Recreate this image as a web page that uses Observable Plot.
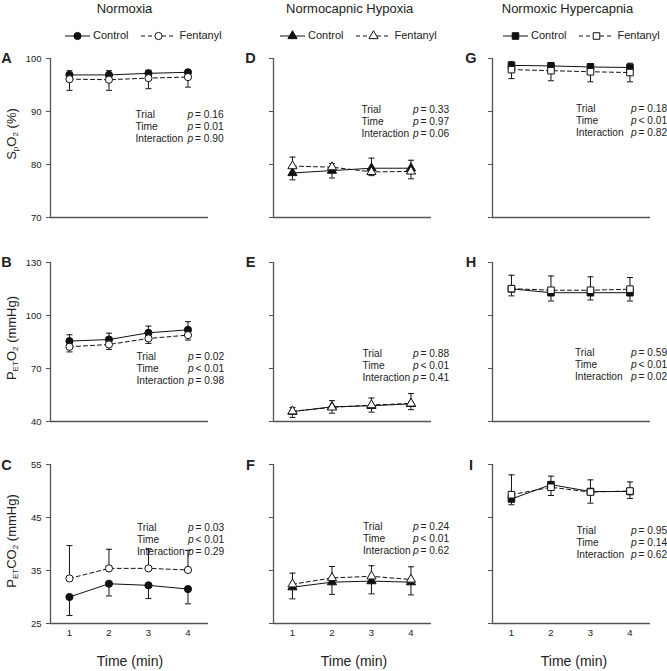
<!DOCTYPE html>
<html><head><meta charset="utf-8">
<script src="https://cdn.jsdelivr.net/npm/d3@7"></script>
<script src="https://cdn.jsdelivr.net/npm/@observablehq/plot@0.6"></script>
<style>
body{margin:0;background:#fff;font-family:"Liberation Sans",Arial,sans-serif;color:#222}
#chart{position:relative;width:667px;height:671px;overflow:hidden}
.abs{position:absolute;white-space:nowrap}
.rot{transform:translate(-50%,-50%) rotate(-90deg);font-size:13px}
.ctr{transform:translate(-50%,-50%)}
sub{font-size:0.62em;vertical-align:-0.35em;line-height:0}
svg{overflow:visible}
</style></head><body><div id="chart"></div>
<script>
// ---------------- data ----------------
const times = [1, 2, 3, 4];
const xTickLabels = ["1", "2", "3", "4"];
const conditions = ["Normoxia", "Normocapnic Hypoxia", "Normoxic Hypercapnia"];
const seriesNames = ["Control", "Fentanyl"];
const panelLetters = ["A", "B", "C", "D", "E", "F", "G", "H", "I"];
const spo2Ticks = [70, 80, 90, 100];
const peto2Ticks = [40, 70, 100, 130];
const petco2Ticks = [25, 35, 45, 55];
const testNames = ["Trial", "Time", "Interaction"];
const xLabel = "Time (min)";

// Normoxia
const A_control = [96.9, 96.9, 97.2, 97.4], A_controlSD = [0.8, 0.8, 0.6, 0.5];
const A_fentanyl = [96.1, 96.0, 96.3, 96.5], A_fentanylSD = [2.1, 2.0, 2.0, 1.9];
const B_control = [85.5, 86.4, 90.2, 91.9], B_controlSD = [3.6, 3.6, 3.8, 4.6];
const B_fentanyl = [82.3, 83.6, 87.0, 88.9], B_fentanylSD = [2.9, 2.8, 2.8, 2.8];
const C_control = [30.0, 32.5, 32.2, 31.5], C_controlSD = [3.5, 2.3, 2.5, 2.8];
const C_fentanyl = [33.5, 35.4, 35.4, 35.1], C_fentanylSD = [6.2, 3.6, 3.7, 3.7];
// Normocapnic hypoxia
const D_control = [78.4, 78.85, 79.3, 79.3], D_controlSD = [1.3, 1.4, 1.9, 1.5];
const D_fentanyl = [79.7, 79.5, 78.6, 78.7], D_fentanylSD = [1.7, 0.7, 0.7, 1.4];
const E_control = [45.6, 48.3, 48.9, 50.0], E_controlSD = [3.3, 3.5, 3.6, 3.3];
const E_fentanyl = [45.8, 48.0, 49.3, 50.2], E_fentanylSD = [2.2, 3.3, 4.0, 5.6];
const F_control = [31.85, 32.8, 33.0, 32.8], F_controlSD = [2.2, 2.3, 2.4, 2.4];
const F_fentanyl = [32.4, 33.6, 33.9, 33.3], F_fentanylSD = [2.1, 2.15, 2.0, 2.4];
// Normoxic hypercapnia
const G_control = [98.7, 98.6, 98.4, 98.3], G_controlSD = [0.7, 0.6, 0.65, 0.8];
const G_fentanyl = [97.9, 97.7, 97.5, 97.35], G_fentanylSD = [1.7, 1.9, 1.9, 1.75];
const H_control = [115.1, 112.9, 112.9, 112.9], H_controlSD = [4.0, 4.7, 4.1, 4.7];
const H_fentanyl = [115.2, 114.3, 114.3, 114.9], H_fentanylSD = [7.6, 8.1, 7.6, 6.6];
const I_control = [48.5, 51.2, 49.9, 49.9], I_controlSD = [1.1, 1.6, 2.2, 1.3];
const I_fentanyl = [49.3, 50.7, 49.8, 50.0], I_fentanylSD = [3.75, 1.55, 2.1, 1.7];

const pTrial = ["= 0.16", "= 0.02", "= 0.03", "= 0.33", "= 0.88", "= 0.24", "= 0.18", "= 0.59", "= 0.95"];
const pTime = ["= 0.01", "< 0.01", "< 0.01", "= 0.97", "< 0.01", "< 0.01", "< 0.01", "< 0.01", "= 0.14"];
const pInteraction = ["= 0.90", "= 0.98", "= 0.29", "= 0.06", "= 0.41", "= 0.62", "= 0.82", "= 0.02", "= 0.62"];

// ---------------- layout ----------------
const FONT = '"Liberation Sans", Arial, sans-serif';
const INK = "#111";
const AXIS = "#555";
const colAxisX = [50, 272.5, 491.5];
const rowTop = [57.7, 261.7, 464];
const ML = 30, MR = 25, MT = 8, MB = 22, IW = 158, IH = 159;
const XDOM = [0.52, 4.52];
const rowTicks = [spo2Ticks, peto2Ticks, petco2Ticks];
const colSymbols = ["circle", "triangle", "square"];
const symR = {circle: 3.6, triangle: 3.4, square: 3.7};
// p-block offsets: [label dx, p dx, middle-line center from frame top]
const pOffsets = [[85, 137, 67.3], [86, 137.5, 105.3], [86.5, 137.5, 75],
                  [88, 139.5, 62.3], [89, 139.5, 102.6], [89.5, 139.5, 74],
                  [83.5, 138.5, 61.3], [82.5, 138.5, 101.3], [84, 138.5, 78]];

const panelData = [
  [A_control, A_controlSD, A_fentanyl, A_fentanylSD],
  [B_control, B_controlSD, B_fentanyl, B_fentanylSD],
  [C_control, C_controlSD, C_fentanyl, C_fentanylSD],
  [D_control, D_controlSD, D_fentanyl, D_fentanylSD],
  [E_control, E_controlSD, E_fentanyl, E_fentanylSD],
  [F_control, F_controlSD, F_fentanyl, F_fentanylSD],
  [G_control, G_controlSD, G_fentanyl, G_fentanylSD],
  [H_control, H_controlSD, H_fentanyl, H_fentanylSD],
  [I_control, I_controlSD, I_fentanyl, I_fentanylSD]
];

const capSymbol = {draw(ctx, size) { const w = Math.sqrt(size / Math.PI); ctx.moveTo(-w, 0); ctx.lineTo(w, 0); }};

const chart = document.getElementById("chart");
function addDiv(html, css, cls = "abs") {
  const d = document.createElement("div");
  d.className = cls; d.innerHTML = html;
  Object.assign(d.style, css);
  chart.appendChild(d);
  return d;
}

function makePanel(k) {
  const col = Math.floor(k / 3), row = k % 3;
  const [control, controlSD, fentanyl, fentanylSD] = panelData[k];
  const ticks = rowTicks[row];
  const ctrl = times.map((t, i) => ({t, m: control[i]}));
  const fent = times.map((t, i) => ({t, m: fentanyl[i]}));
  const bars = [];
  times.forEach((t, i) => {
    const cUp = control[i] > fentanyl[i];
    bars.push({t, m: control[i], e: control[i] + (cUp ? 1 : -1) * controlSD[i]});
    bars.push({t, m: fentanyl[i], e: fentanyl[i] + (cUp ? -1 : 1) * fentanylSD[i]});
  });
  const sym = colSymbols[col], r = symR[sym];
  const [ldx, pdx, yc] = pOffsets[k];
  const pFont = 10.2, lh = 12 / 10.2;
  const common = {frameAnchor: "top-left", textAnchor: "start", lineAnchor: "middle",
    dy: yc, fontSize: pFont, lineHeight: lh, fill: "#222"};
  const marks = [
    Plot.axisY({ticks, tickSize: 4, tickPadding: 5, stroke: AXIS, fontSize: 9.5,
      tickFormat: col === 0 ? (d => String(d)) : (() => ""), label: null}),
    Plot.ruleY([ticks[0]], {stroke: AXIS, strokeWidth: 1.3}),
    Plot.ruleX([XDOM[0]], {stroke: AXIS, strokeWidth: 1.3}),
    Plot.line(ctrl, {x: "t", y: "m", stroke: INK, strokeWidth: 1}),
    Plot.line(fent, {x: "t", y: "m", stroke: INK, strokeWidth: 1, strokeDasharray: "4,3"}),
    Plot.ruleX(bars, {x: "t", y1: "m", y2: "e", stroke: INK, strokeWidth: 1}),
    Plot.dot(bars, {x: "t", y: "e", symbol: capSymbol, r: 3, fill: "none", stroke: INK, strokeWidth: 1}),
    Plot.dot(ctrl, {x: "t", y: "m", symbol: sym, r, fill: INK, stroke: INK, strokeWidth: 1}),
    Plot.dot(fent, {x: "t", y: "m", symbol: sym, r, fill: "white", stroke: INK, strokeWidth: 1}),
    Plot.text([testNames.join("\n")], {...common, text: d => d, dx: ldx}),
    Plot.text(["p\np\np"], {...common, text: d => d, dx: pdx, fontStyle: "italic"}),
    Plot.text([[pTrial[k], pTime[k], pInteraction[k]].join("\n")], {...common, text: d => d, dx: pdx + 7.5})
  ];
  if (row === 2) {
    marks.unshift(Plot.axisX({ticks: times, tickSize: 0, tickPadding: 6, fontSize: 9.5,
      tickFormat: d => xTickLabels[times.indexOf(d)], label: null}));
  }
  const W = ML + IW + MR, H = MT + IH + MB;
  const svg = Plot.plot({
    width: W, height: H,
    marginLeft: ML, marginRight: MR, marginTop: MT, marginBottom: MB,
    x: {domain: XDOM, ...(row === 2 ? {} : {axis: null})},
    y: {domain: [ticks[0], ticks[ticks.length - 1]]},
    style: {fontFamily: FONT, fontSize: "9.5px", color: "#222", background: "transparent", overflow: "visible", maxWidth: "none"},
    marks
  });
  svg.style.maxWidth = "none";
  svg.style.width = W + "px";
  svg.style.height = H + "px";
  const wrap = addDiv("", {left: (colAxisX[col] - ML) + "px", top: (rowTop[row] - MT) + "px", width: W + "px", height: H + "px"});
  wrap.appendChild(svg);
}

for (let k = 0; k < 9; k++) makePanel(k);

// column titles
const titleX = [124.5, 349.7, 567.5];
conditions.forEach((c, i) => addDiv(c, {left: titleX[i] + "px", top: "7.5px", fontSize: "13px"}, "abs ctr"));

// legends
const legendLeft = [65, 280, 503];
function legendSwatch(sym, filled, w) {
  const s = d3.create("svg").attr("width", w).attr("height", 10).style("vertical-align", "middle");
  s.append("line").attr("x1", 0).attr("x2", w).attr("y1", 5).attr("y2", 5)
    .attr("stroke", INK).attr("stroke-width", 1).attr("stroke-dasharray", filled ? null : "4,3");
  const ty = {circle: d3.symbolCircle, triangle: d3.symbolTriangle, square: d3.symbolSquare}[sym];
  const r = symR[sym];
  s.append("path").attr("d", d3.symbol(ty, Math.PI * r * r)()).attr("transform", `translate(${w / 2},5)`)
    .attr("fill", filled ? INK : "white").attr("stroke", INK).attr("stroke-width", 1);
  return s.node().outerHTML;
}
colSymbols.forEach((sym, i) => {
  const html = `${legendSwatch(sym, true, 25)}<span style="margin-left:3px">${seriesNames[0]}</span>` +
    `<span style="display:inline-block;width:13px"></span>${legendSwatch(sym, false, 35)}<span style="margin-left:3px">${seriesNames[1]}</span>`;
  addDiv(html, {left: legendLeft[i] + "px", top: "28px", fontSize: "11px", lineHeight: "14px"});
});

// panel letters
const letterX = [6.5, 250.5, 471];
panelLetters.forEach((L, k) => {
  const col = Math.floor(k / 3), row = k % 3;
  addDiv(L, {left: letterX[col] + "px", top: (rowTop[row] + 0.5) + "px", fontSize: "14.5px", fontWeight: "bold"}, "abs ctr");
});

// y labels
const yLabels = ["S<sub>p</sub>O<sub>2</sub> (%)", "P<sub>ET</sub>O<sub>2</sub> (mmHg)", "P<sub>ET</sub>CO<sub>2</sub> (mmHg)"];
const yLabelY = [134, 338, 541];
yLabels.forEach((t, i) => addDiv(t, {left: "11px", top: yLabelY[i] + "px"}, "abs rot"));

// x labels
const xLabelX = [130, 354, 574];
xLabelX.forEach(x => addDiv(xLabel, {left: x + "px", top: "661px", fontSize: "14px"}, "abs ctr"));
</script></body></html>
